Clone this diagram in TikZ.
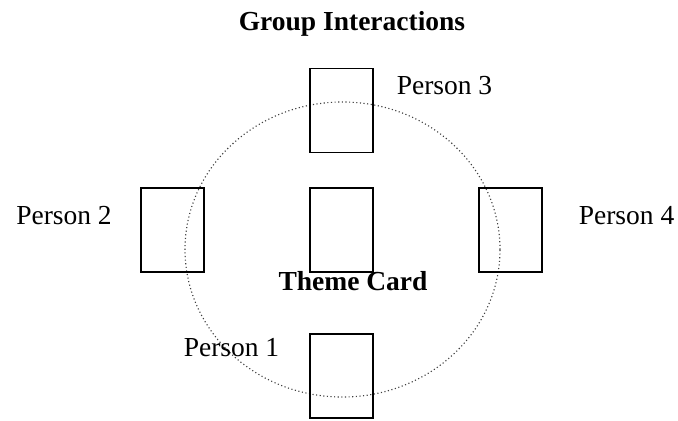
\documentclass[tikz,border=0pt]{standalone}
\usepackage{fontspec}
\setmainfont{Liberation Serif}
\usepackage{tikz}
\usetikzlibrary{shapes.geometric}
\tikzset{
	card/.style={draw, line width=0.5pt, minimum width=25.2pt, minimum height=33.6pt, inner sep=0pt},
	who/.style={anchor=base, font=\fontsize{11}{13}\selectfont},
	headline/.style={anchor=base, font=\fontsize{11}{13}\selectfont\bfseries}
}

\begin{document}
\begin{tikzpicture}[x=0.4pt, y=-0.4pt]
			%%%%% START %%%%%
			
			\useasboundingbox (0, 0) rectangle (678, 420);
			
			\node[headline] (title) at (352, 30) {Group Interactions};
			
			\node[ellipse, draw, densely dotted, line width=0.45pt, color=black!75, minimum width=126pt, minimum height=118pt, inner sep=0pt] (table) at (342.5, 249.5) {};
			
			\node[card] (card3) at (341.5, 110.5) {};
			\node[card] (card2) at (172.5, 230) {};
			\node[card] (theme) at (341.5, 230) {};
			\node[card] (card4) at (510.5, 230) {};
			\node[card] (card1) at (341.5, 376) {};
			
			\node[who] (person3) at (444.5, 94) {Person 3};
			\node[who] (person2) at (64, 224) {Person 2};
			\node[who] (person4) at (626.5, 224) {Person 4};
			\node[who] (person1) at (231.5, 356) {Person 1};
			\node[headline] (themelabel) at (353, 290) {Theme Card};
			
			%%%%% END %%%%%
		\end{tikzpicture}
\end{document}
